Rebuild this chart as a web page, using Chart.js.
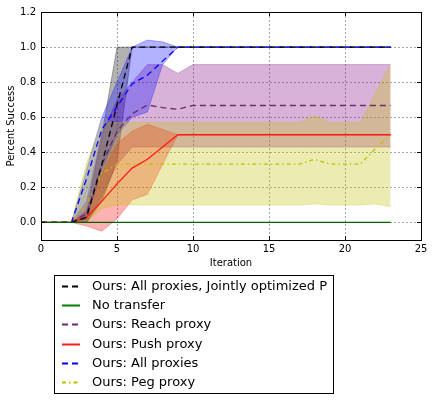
<!DOCTYPE html>
<html>
<head>
<meta charset="utf-8">
<script src="https://cdn.jsdelivr.net/npm/chart.js@4"></script>
<style>
  html, body { margin: 0; padding: 0; background: #fff; }
  canvas { display: block; }
</style>
</head>
<body>
<canvas id="chart" width="434" height="400"></canvas>
<script>
const iterations = [0,1,2,3,4,5,6,7,8,9,10,11,12,13,14,15,16,17,18,19,20,21,22,23];

const jointMean = [0,0,0,0.03,0.33,0.67,1,1,1,1,1,1,1,1,1,1,1,1,1,1,1,1,1,1];
const jointLow  = [0,0,0,0,0.12,0.35,1,1,1,1,1,1,1,1,1,1,1,1,1,1,1,1,1,1];
const jointHigh = [0,0,0,0.06,0.5,1,1,1,1,1,1,1,1,1,1,1,1,1,1,1,1,1,1,1];

const noTransfer = [0,0,0,0,0,0,0,0,0,0,0,0,0,0,0,0,0,0,0,0,0,0,0,0];

const reachMean = [0,0,0,0.05,0.33,0.52,0.62,0.67,0.655,0.645,0.667,0.667,0.667,0.667,0.667,0.667,0.667,0.667,0.667,0.667,0.667,0.667,0.667,0.667];
const reachLow  = [0,0,0,0,0.15,0.33,0.43,0.43,0.43,0.43,0.43,0.43,0.43,0.43,0.43,0.43,0.43,0.43,0.43,0.43,0.43,0.43,0.43,0.43];
const reachHigh = [0,0,0,0.12,0.5,0.7,0.8,0.9,0.9,0.85,0.9,0.9,0.9,0.9,0.9,0.9,0.9,0.9,0.9,0.9,0.9,0.9,0.9,0.9];

const pushMean = [0,0,0,0.03,0.12,0.22,0.31,0.36,0.43,0.5,0.5,0.5,0.5,0.5,0.5,0.5,0.5,0.5,0.5,0.5,0.5,0.5,0.5,0.5];
const pushLow  = [0,0,0,-0.02,-0.05,0.02,0.13,0.16,0.33,0.5,0.5,0.5,0.5,0.5,0.5,0.5,0.5,0.5,0.5,0.5,0.5,0.5,0.5,0.5];
const pushHigh = [0,0,0,0.07,0.28,0.45,0.52,0.56,0.53,0.5,0.5,0.5,0.5,0.5,0.5,0.5,0.5,0.5,0.5,0.5,0.5,0.5,0.5,0.5];

const allMean = [0,0,0,0.25,0.53,0.66,0.79,0.84,0.92,1,1,1,1,1,1,1,1,1,1,1,1,1,1,1];
const allLow  = [0,0,0,0.02,0.3,0.5,0.6,0.63,0.9,1,1,1,1,1,1,1,1,1,1,1,1,1,1,1];
const allHigh = [0,0,0,0.3,0.6,0.8,1,1.04,1.03,1,1,1,1,1,1,1,1,1,1,1,1,1,1,1];

const pegMean = [0,0,0,0.1,0.28,0.33,0.333,0.333,0.333,0.333,0.333,0.333,0.333,0.333,0.333,0.333,0.333,0.333,0.36,0.333,0.333,0.333,0.42,0.5];
const pegLow  = [0,0,0,0,0.08,0.1,0.1,0.1,0.1,0.1,0.1,0.1,0.1,0.1,0.1,0.1,0.1,0.1,0.105,0.1,0.1,0.1,0.105,0.09];
const pegHigh = [0,0,0,0.34,0.57,0.57,0.57,0.57,0.57,0.57,0.57,0.57,0.57,0.57,0.57,0.57,0.57,0.57,0.61,0.57,0.57,0.57,0.74,0.9];

const xTicks = [0,5,10,15,20,25];
const yTicks = [0,0.2,0.4,0.6,0.8,1.0,1.2];

const FONT = '"DejaVu Sans", "Liberation Sans", sans-serif';

function pts(arr) {
  return arr.map((v, i) => ({x: iterations[i], y: v}));
}

function line(label, data, color, dash, legendColor) {
  return {
    label: label,
    data: pts(data),
    borderColor: color,
    backgroundColor: legendColor || color,
    borderWidth: 1.3,
    borderDash: dash,
    pointRadius: 0,
    tension: 0,
    fill: false
  };
}

function band(high, low, rgb) {
  return [
    {
      label: '',
      data: pts(high),
      borderColor: 'rgba(' + rgb + ',0.35)',
      backgroundColor: 'rgba(' + rgb + ',0.3)',
      borderWidth: 0.8,
      pointRadius: 0,
      tension: 0,
      fill: '+1'
    },
    {
      label: '',
      data: pts(low),
      borderColor: 'rgba(' + rgb + ',0.35)',
      borderWidth: 0.8,
      pointRadius: 0,
      tension: 0,
      fill: false
    }
  ];
}

const series = [
  line('Ours: All proxies, Jointly optimized P', jointMean, '#000000', [6, 4]),
  line('No transfer', noTransfer, '#006000', [], '#008000'),
  line('Ours: Reach proxy', reachMean, '#6e2a6e', [6, 4]),
  line('Ours: Push proxy', pushMean, '#ff1a1a', []),
  line('Ours: All proxies', allMean, '#0000ff', [6, 4]),
  line('Ours: Peg proxy', pegMean, '#bfbf00', [4, 3, 1.5, 3])
];

// bands: later in list = filled first, so peg ends on top
const bands = [].concat(
  band(pegHigh, pegLow, '191,191,0'),
  band(allHigh, allLow, '0,0,255'),
  band(pushHigh, pushLow, '255,0,0'),
  band(reachHigh, reachLow, '128,0,128'),
  band(jointHigh, jointLow, '0,0,0')
);

// green line drawn on top of everything
series[1].order = -1;

const frame = {
  id: 'frame',
  afterDatasetsDraw(chart) {
    const {ctx, chartArea: a, scales} = chart;
    ctx.save();
    ctx.strokeStyle = '#000';
    ctx.lineWidth = 1;
    ctx.setLineDash([]);
    ctx.strokeRect(Math.round(a.left) + 0.5, Math.round(a.top) + 0.5,
      Math.round(a.right - a.left), Math.round(a.bottom - a.top));
    ctx.beginPath();
    xTicks.forEach(v => {
      const px = Math.round(scales.x.getPixelForValue(v)) + 0.5;
      ctx.moveTo(px, a.bottom); ctx.lineTo(px, a.bottom - 4);
      ctx.moveTo(px, a.top); ctx.lineTo(px, a.top + 4);
    });
    yTicks.forEach(v => {
      const py = Math.round(scales.y.getPixelForValue(v)) + 0.5;
      ctx.moveTo(a.left, py); ctx.lineTo(a.left + 4, py);
      ctx.moveTo(a.right, py); ctx.lineTo(a.right - 4, py);
    });
    ctx.stroke();
    ctx.restore();
  }
};

const legendBox = {
  id: 'legendBox',
  afterDraw(chart) {
    const ctx = chart.ctx;
    ctx.save();
    ctx.fillStyle = '#fff';
    ctx.fillRect(54, 275, 279, 118);
    ctx.strokeStyle = '#000';
    ctx.lineWidth = 1;
    ctx.setLineDash([]);
    ctx.strokeRect(54.5, 275.5, 279, 118);
    ctx.font = '13px ' + FONT;
    ctx.textBaseline = 'middle';
    series.forEach((s, i) => {
      const y = Math.round(286 + i * 19.2) + 0.5;
      ctx.strokeStyle = s.backgroundColor;
      ctx.lineWidth = 2;
      ctx.setLineDash(s.borderDash);
      ctx.beginPath();
      ctx.moveTo(62, y);
      ctx.lineTo(80, y);
      ctx.stroke();
      ctx.fillStyle = '#000';
      ctx.fillText(s.label, 92, y);
    });
    ctx.restore();
  }
};

new Chart(document.getElementById('chart'), {
  type: 'line',
  data: { datasets: series.concat(bands) },
  options: {
    responsive: false,
    animation: false,
    layout: { padding: { left: 0, top: 12, right: 13, bottom: 130 } },
    plugins: {
      legend: { display: false },
      tooltip: { enabled: false }
    },
    scales: {
      x: {
        type: 'linear',
        min: 0,
        max: 25,
        afterBuildTicks: s => { s.ticks = xTicks.map(v => ({value: v})); },
        afterFit: s => { s.height = 30; },
        grid: { color: 'rgba(0,0,0,0.35)', drawTicks: false, lineWidth: 1 },
        border: { display: true, color: '#000', width: 1, dash: [2, 2] },
        ticks: { color: '#000', font: { family: FONT, size: 10 }, padding: 3, maxRotation: 0 },
        title: { display: true, text: 'Iteration', color: '#000', font: { family: FONT, size: 10 }, padding: { top: 0, bottom: 1 } }
      },
      y: {
        type: 'linear',
        min: -0.1,
        max: 1.2,
        afterBuildTicks: s => { s.ticks = yTicks.map(v => ({value: v})); },
        afterFit: s => { s.width = 41; },
        grid: { color: 'rgba(0,0,0,0.35)', drawTicks: false, lineWidth: 1 },
        border: { display: true, color: '#000', width: 1, dash: [2, 2] },
        ticks: { color: '#000', font: { family: FONT, size: 10 }, padding: 5, callback: v => v.toFixed(1) },
        title: { display: true, text: 'Percent Success', color: '#000', font: { family: FONT, size: 10 }, padding: { top: 5, bottom: 0 } }
      }
    }
  },
  plugins: [frame, legendBox]
});
</script>
</body>
</html>
